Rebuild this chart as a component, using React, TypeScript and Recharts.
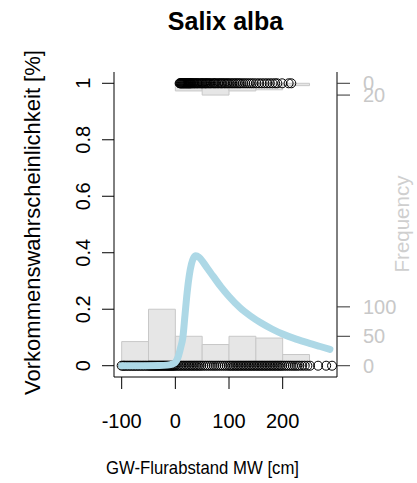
import React from 'react';
import { ComposedChart, XAxis, YAxis, Line, Scatter, ReferenceArea } from 'recharts';

const FONT = "'Liberation Sans', Arial, Helvetica, sans-serif";

// axis ticks
const probTicks = [0, 0.2, 0.4, 0.6, 0.8, 1];
const xTicks = [-100, 0, 100, 200];

// histogram bins (cm) and counts
const binStarts = [-100, -50, 0, 50, 100, 150, 200];
const binWidth = 50;
const absentCounts = [41, 96, 50, 36, 50, 47, 19];
const presentCounts = [0, 0, 13, 20, 13, 11, 4];
const FREQ_PER_UNIT = 480; // frequency units per probability unit
const freqTicksBottom = [0, 50, 100];
const freqTicksTop = [0, 20];

// observations (absence at 0, presence at 1)
const absentX = [
  -100, -97, -95, -92, -89, -86, -83, -80, -77, -74, -71, -68, -65, -62, -59, -56, -53, -50,
  -48, -46, -44, -42, -40, -38, -36, -34, -32, -30, -28, -26, -24, -22, -20, -18, -16, -14,
  -12, -10, -8, -6, -4, -2, 0, 3, 6, 9, 12, 15, 18, 21, 24, 27, 30, 33, 36, 39, 42, 45, 48,
  52, 56, 60, 64, 68, 72, 76, 80, 84, 88, 92, 96, 100, 103, 106, 109, 112, 115, 118, 121,
  124, 127, 130, 133, 136, 139, 142, 145, 148, 151, 154, 157, 160, 163, 166, 169, 172, 175,
  178, 181, 184, 187, 190, 193, 196, 199, 203, 207, 211, 215, 219, 223, 227, 231, 236, 241,
  246, 251, 266, 281, 292,
];
const presentX = [
  8, 9, 10, 11, 12, 13, 14, 15, 16, 17, 18, 19, 20, 21, 22, 23, 24, 25, 26, 27, 28, 29, 30,
  32, 33, 35, 36, 38, 40, 41, 43, 45, 47, 49, 50, 52, 54, 56, 57, 59, 61, 63, 65, 67, 70,
  72, 74, 76, 79, 81, 84, 86, 88, 91, 93, 96, 98, 101, 104, 107, 110, 113, 116, 119, 122,
  126, 130, 134, 138, 142, 146, 151, 156, 161, 166, 171, 176, 181, 186, 190, 199, 211, 216,
];

// fitted probability curve
const curveX = [-100, -60, -30, -15, -5, 0, 5, 10, 14, 18, 22, 26, 30, 34, 38, 44, 52, 60, 70, 85, 100, 120, 140, 160, 180, 200, 225, 250, 270, 288];
const curveP = [0, 0, 0.0005, 0.002, 0.006, 0.012, 0.03, 0.065, 0.1, 0.18, 0.26, 0.32, 0.36, 0.382, 0.389, 0.384, 0.366, 0.344, 0.318, 0.279, 0.245, 0.206, 0.176, 0.151, 0.13, 0.112, 0.094, 0.079, 0.068, 0.058];

const curveData = curveX.map((x, i) => ({ x, p: curveP[i] }));
const absentData = absentX.map((x) => ({ x, p: 0 }));
const presentData = presentX.map((x) => ({ x, p: 1 }));
const freqTicks = [...freqTicksBottom, ...freqTicksTop.map((t) => FREQ_PER_UNIT - t)];

const LeftTick = (props: any) => {
  const { x, y, payload } = props;
  return (
    <text x={x} y={y} transform={`rotate(-90 ${x} ${y})`} textAnchor="middle" fontSize={20} fontFamily={FONT} fill="#000">
      {String(payload.value)}
    </text>
  );
};

const circleShape = (props: any) => (
  <circle cx={props.cx} cy={props.cy} r={4.5} fill="none" stroke="#000" strokeWidth={1} />
);

export default function App() {
  const xDomain: [number, number] = [-114.3, 301.2];
  return (
    <div style={{ position: 'absolute', left: 0, top: 0, width: 417, height: 483, background: '#fff' }}>
      <ComposedChart width={417} height={483} margin={{ top: 72, right: 0, bottom: 0, left: 0 }}>
        <XAxis
          dataKey="x"
          type="number"
          domain={xDomain}
          ticks={xTicks}
          interval={0}
          allowDataOverflow
          height={106}
          tickSize={12}
          tickMargin={25}
          tickLine={{ stroke: '#000' }}
          axisLine={{ stroke: '#000' }}
          tick={{ fontSize: 20, fill: '#000', fontFamily: FONT }}
        />
        <XAxis xAxisId="top" orientation="top" type="number" domain={xDomain} height={0} tick={false} tickLine={false} axisLine={{ stroke: '#000' }} />
        <YAxis
          dataKey="p"
          type="number"
          domain={[-0.04, 1.04]}
          ticks={probTicks}
          interval={0}
          allowDataOverflow
          width={114}
          tickSize={12}
          tickMargin={12}
          tickLine={{ stroke: '#000' }}
          axisLine={{ stroke: '#000' }}
          tick={<LeftTick />}
        />
        <YAxis
          yAxisId="freq"
          orientation="right"
          type="number"
          domain={[-0.04 * FREQ_PER_UNIT, 1.04 * FREQ_PER_UNIT]}
          ticks={freqTicks}
          interval={0}
          allowDataOverflow
          width={80}
          tickSize={13}
          tickMargin={13}
          tickLine={{ stroke: '#333' }}
          axisLine={{ stroke: '#000' }}
          tickFormatter={(v: number) => String(v > FREQ_PER_UNIT / 2 ? FREQ_PER_UNIT - v : v)}
          tick={{ fontSize: 20, fill: '#c8c8c8', fontFamily: FONT }}
        />
        {binStarts.map((b, i) =>
          absentCounts[i] > 0 ? (
            <ReferenceArea key={'a' + i} yAxisId="freq" x1={b} x2={b + binWidth} y1={0} y2={absentCounts[i]} fill="#e6e6e6" fillOpacity={1} stroke="#c8c8c8" strokeWidth={1} />
          ) : null
        )}
        {binStarts.map((b, i) =>
          presentCounts[i] > 0 ? (
            <ReferenceArea key={'p' + i} yAxisId="freq" x1={b} x2={b + binWidth} y1={FREQ_PER_UNIT - presentCounts[i]} y2={FREQ_PER_UNIT} fill="#e6e6e6" fillOpacity={1} stroke="#c8c8c8" strokeWidth={1} />
          ) : null
        )}
        <Scatter data={absentData} dataKey="p" shape={circleShape} isAnimationActive={false} />
        <Scatter data={presentData} dataKey="p" shape={circleShape} isAnimationActive={false} />
        <Line
          data={curveData}
          dataKey="p"
          type="monotone"
          stroke="#add8e6"
          strokeWidth={7}
          strokeLinecap="round"
          strokeLinejoin="round"
          dot={false}
          activeDot={false}
          isAnimationActive={false}
          {...({ zIndex: 700 } as any)}
        />
      </ComposedChart>
      <svg width={417} height={483} style={{ position: 'absolute', left: 0, top: 0, pointerEvents: 'none' }}>
        <text x={225.5} y={30} textAnchor="middle" fontSize={25} fontWeight="bold" fontFamily={FONT} fill="#000">
          Salix alba
        </text>
        <text x={202.5} y={474} textAnchor="middle" fontSize={19} textLength={193} lengthAdjust="spacingAndGlyphs" fontFamily={FONT} fill="#000">
          GW-Flurabstand MW [cm]
        </text>
        <text x={40} y={222.5} transform="rotate(-90 40 222.5)" textAnchor="middle" fontSize={22} fontFamily={FONT} fill="#000">
          Vorkommenswahrscheinlichkeit [%]
        </text>
        <text x={409} y={224} transform="rotate(-90 409 224)" textAnchor="middle" fontSize={20.5} fontFamily={FONT} fill="#cfcfcf">
          Frequency
        </text>
      </svg>
    </div>
  );
}
